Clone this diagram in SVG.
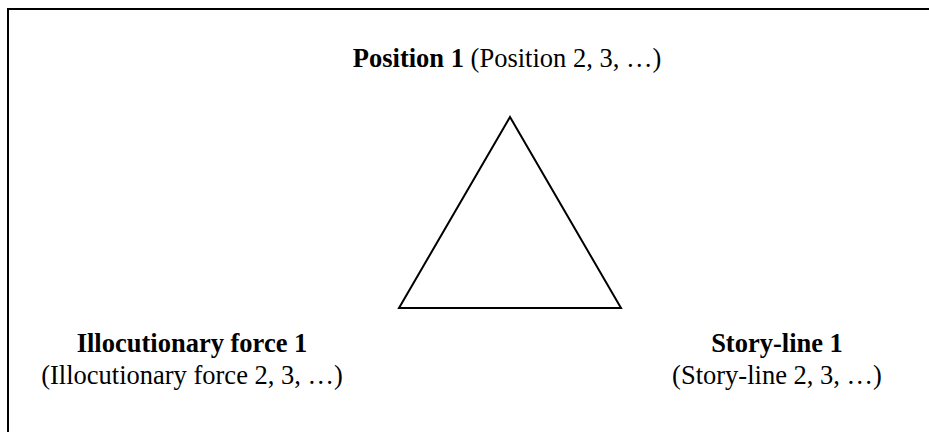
<svg xmlns="http://www.w3.org/2000/svg" width="929" height="432" viewBox="0 0 929 432">
<style>
text{font-family:"Liberation Serif","Times New Roman",serif;font-size:26.5px;fill:#000;text-anchor:middle}
.b{font-weight:bold}
.shape{fill:none;stroke:#000;stroke-width:2}
</style>
<rect x="0" y="0" width="929" height="432" fill="#fff"/>
<path class="shape" d="M8,440 V9 H940"/>
<g id="triangle">
<polygon class="shape" points="510,117 399,308 621,308" stroke-linejoin="miter"/>
</g>
<g id="position">
<text x="507" y="67"><tspan class="b">Position 1</tspan> (Position 2, 3, …)</text>
</g>
<g id="illocutionary">
<text class="b" x="192" y="352">Illocutionary force 1</text>
<text x="192" y="384">(Illocutionary force 2, 3, …)</text>
</g>
<g id="storyline">
<text class="b" x="777" y="352">Story-line 1</text>
<text x="777" y="384">(Story-line 2, 3, …)</text>
</g>
<g id="connectors"></g>
</svg>
